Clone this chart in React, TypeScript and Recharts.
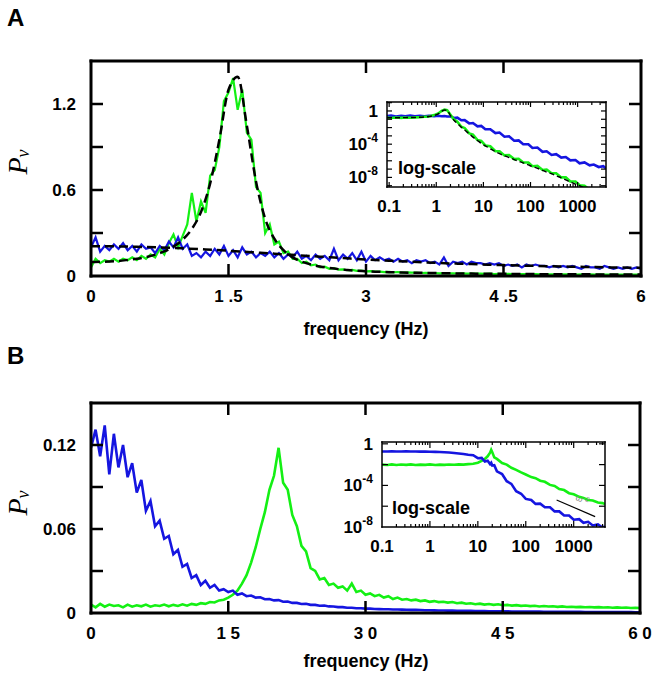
import React from "react";
import { LineChart, Line, XAxis, YAxis } from "recharts";

const SANS = "'Liberation Sans', Arial, Helvetica, sans-serif";
const SERIF = "'Liberation Serif', 'Times New Roman', serif";
const GREEN = "#14f014";
const BLUE = "#1515e0";

// ---- panel A, 0-6 Hz, sampled every 0.05 Hz ----
const A_STEP = 0.05;
const GREEN_A = [
  0.06, 0.12, 0.09, 0.11, 0.10, 0.12, 0.10, 0.12, 0.11, 0.13,
  0.11, 0.14, 0.12, 0.15, 0.13, 0.19, 0.15, 0.23, 0.29, 0.20,
  0.28, 0.36, 0.58, 0.38, 0.52, 0.44, 0.70, 0.74, 0.90, 1.22,
  1.28, 1.38, 1.16, 1.30, 1.00, 0.95, 0.62, 0.58, 0.30, 0.36,
  0.22, 0.24, 0.16, 0.17, 0.12, 0.12, 0.09, 0.10, 0.075, 0.08,
  0.06, 0.065, 0.05, 0.055, 0.045, 0.046, 0.040, 0.042, 0.036, 0.038,
  0.032, 0.034, 0.030, 0.031, 0.027, 0.029, 0.026, 0.027, 0.024, 0.025,
  0.023, 0.024, 0.021, 0.022, 0.020, 0.021, 0.019, 0.020, 0.018, 0.019,
  0.017, 0.018, 0.016, 0.017, 0.016, 0.016, 0.015, 0.016, 0.014, 0.015,
  0.014, 0.015, 0.013, 0.014, 0.013, 0.014, 0.012, 0.013, 0.012, 0.013,
  0.012, 0.012, 0.011, 0.012, 0.011, 0.012, 0.010, 0.011, 0.010, 0.011,
  0.010, 0.011, 0.010, 0.010, 0.009, 0.010, 0.009, 0.010, 0.009, 0.010,
  0.009,
];
const BLUE_A = [
  0.20, 0.27, 0.17, 0.21, 0.18, 0.22, 0.19, 0.23, 0.18, 0.21,
  0.17, 0.22, 0.19, 0.20, 0.16, 0.21, 0.18, 0.24, 0.20, 0.27,
  0.19, 0.22, 0.14, 0.16, 0.13, 0.17, 0.14, 0.19, 0.15, 0.21,
  0.14, 0.18, 0.13, 0.20, 0.15, 0.17, 0.13, 0.16, 0.14, 0.17,
  0.13, 0.16, 0.12, 0.15, 0.13, 0.17, 0.12, 0.14, 0.11, 0.15,
  0.12, 0.14, 0.11, 0.19, 0.11, 0.15, 0.12, 0.16, 0.11, 0.17,
  0.10, 0.14, 0.11, 0.13, 0.11, 0.12, 0.10, 0.12, 0.10, 0.11,
  0.09, 0.11, 0.10, 0.11, 0.09, 0.10, 0.08, 0.13, 0.07, 0.10,
  0.09, 0.10, 0.08, 0.10, 0.09, 0.09, 0.08, 0.09, 0.08, 0.09,
  0.07, 0.08, 0.07, 0.08, 0.06, 0.08, 0.07, 0.08, 0.07, 0.07,
  0.06, 0.07, 0.06, 0.07, 0.06, 0.07, 0.06, 0.05, 0.07, 0.06,
  0.06, 0.05, 0.07, 0.06, 0.05, 0.06, 0.05, 0.06, 0.05, 0.06,
  0.05,
];
// fitted curves (dashed), green every 0.1 Hz, blue every 0.25 Hz
const GREEN_FIT_STEP = 0.1;
const GREEN_FIT_A = [
  0.098, 0.099, 0.101, 0.105, 0.112, 0.120, 0.132, 0.149, 0.172, 0.205,
  0.254, 0.328, 0.447, 0.646, 0.950, 1.300, 1.390, 1.050, 0.660, 0.400,
  0.260, 0.180, 0.130, 0.100, 0.080, 0.066, 0.056, 0.048, 0.042, 0.037,
  0.033, 0.030, 0.028, 0.026, 0.024, 0.023, 0.022, 0.021, 0.020, 0.019,
  0.018, 0.017, 0.0165, 0.016, 0.0155, 0.015, 0.0145, 0.014, 0.0135, 0.013,
  0.0127, 0.0124, 0.0121, 0.0118, 0.0115, 0.0112, 0.011, 0.0108, 0.0106, 0.0104,
  0.0102,
];
const BLUE_FIT_STEP = 0.25;
const BLUE_FIT_A = [
  0.208, 0.207, 0.204, 0.199, 0.193, 0.185, 0.176, 0.166, 0.156, 0.145,
  0.135, 0.125, 0.115, 0.107, 0.099, 0.092, 0.086, 0.081, 0.076, 0.072,
  0.068, 0.065, 0.062, 0.059, 0.057,
];

// ---- panel B, 0-60 Hz, sampled every 0.5 Hz ----
const B_STEP = 0.5;
const GREEN_B = [
  0.0060, 0.0040, 0.0065, 0.0045, 0.0060, 0.0050, 0.0055, 0.0040, 0.0060, 0.0045,
  0.0055, 0.0048, 0.0060, 0.0045, 0.0055, 0.0050, 0.0060, 0.0048, 0.0058, 0.0050,
  0.0062, 0.0052, 0.0065, 0.0058, 0.0070, 0.0065, 0.0078, 0.0075, 0.0090, 0.0095,
  0.011, 0.013, 0.016, 0.021, 0.027, 0.036, 0.047, 0.060, 0.072, 0.088,
  0.098, 0.118, 0.093, 0.088, 0.070, 0.062, 0.048, 0.044, 0.032, 0.030,
  0.024, 0.025, 0.020, 0.021, 0.018, 0.019, 0.016, 0.021, 0.015, 0.016,
  0.013, 0.014, 0.012, 0.013, 0.011, 0.012, 0.010, 0.011, 0.0095, 0.010,
  0.009, 0.0095, 0.0085, 0.009, 0.008, 0.0085, 0.0078, 0.008, 0.0074, 0.0078,
  0.007, 0.0074, 0.0066, 0.007, 0.0063, 0.0067, 0.006, 0.0064, 0.0058, 0.0062,
  0.0055, 0.0058, 0.0053, 0.0056, 0.0051, 0.0054, 0.0049, 0.0052, 0.0047, 0.005,
  0.0046, 0.0048, 0.0044, 0.0047, 0.0043, 0.0045, 0.0042, 0.0044, 0.0041, 0.0043,
  0.004, 0.0042, 0.0039, 0.0041, 0.0038, 0.004, 0.0037, 0.0039, 0.0036, 0.0038,
  0.0036,
];
const BLUE_B = [
  0.118, 0.131, 0.112, 0.134, 0.099, 0.128, 0.104, 0.120, 0.097, 0.107,
  0.086, 0.095, 0.073, 0.080, 0.062, 0.066, 0.053, 0.055, 0.042, 0.045,
  0.033, 0.035, 0.025, 0.027, 0.020, 0.023, 0.018, 0.020, 0.016, 0.017,
  0.015, 0.016, 0.013, 0.014, 0.012, 0.0125, 0.011, 0.0112, 0.0098, 0.010,
  0.009, 0.0092, 0.008, 0.0082, 0.0072, 0.0072, 0.0064, 0.0066, 0.0058, 0.0058,
  0.0052, 0.0053, 0.0047, 0.0046, 0.0042, 0.0042, 0.0038, 0.0037, 0.0034, 0.0034,
  0.0031, 0.0031, 0.0029, 0.0028, 0.0027, 0.0027, 0.0025, 0.0025, 0.0024, 0.0023,
  0.0022, 0.0022, 0.0021, 0.0020, 0.0020, 0.0019, 0.0018, 0.0018, 0.0017, 0.0017,
  0.0016, 0.0016, 0.0015, 0.0015, 0.0014, 0.0014, 0.0014, 0.0013, 0.0013, 0.0012,
  0.0012, 0.0012, 0.0011, 0.0011, 0.0011, 0.0010, 0.0010, 0.0010, 0.0010, 0.0009,
  0.0009, 0.0009, 0.0009, 0.0008, 0.0008, 0.0008, 0.0008, 0.0008, 0.0007, 0.0007,
  0.0007, 0.0007, 0.0007, 0.0006, 0.0006, 0.0006, 0.0006, 0.0006, 0.0006, 0.0005,
  0.0005,
];

// ---- insets (log-log), values kept as powers of ten ----
const INSET_A_FREQ = [
  0.09, 0.11, 0.14, 0.18, 0.22, 0.28, 0.35, 0.45, 0.56, 0.7,
  0.9, 1.1, 1.3, 1.5, 1.7, 2, 2.4, 2.8, 3.4, 4,
  5, 6, 7.5, 9, 11, 14, 18, 22, 28, 35,
  45, 56, 70, 90, 110, 140, 180, 220, 280, 350,
  450, 560, 700, 900, 1100, 1400, 1800, 2200, 2800, 3500,
  4000,
];
const INSET_A_GREEN_EXP = [
  -0.80, -0.84, -0.79, -0.83, -0.78, -0.81, -0.77, -0.76, -0.70, -0.66,
  -0.50, -0.30, 0.0, 0.16, 0.10, -0.45, -1.05, -1.30, -1.90, -2.05,
  -2.70, -2.85, -3.50, -3.60, -4.15, -4.25, -4.85, -4.85, -5.35, -5.30,
  -5.80, -5.75, -6.20, -6.20, -6.65, -6.60, -7.10, -7.05, -7.50, -7.50,
  -8.00, -8.00, -8.50, -8.50, -8.95, -9.00, -9.50, -9.45, -9.95, -9.90,
  -10.2,
];
const INSET_A_FIT_EXP = [
  -0.82, -0.82, -0.82, -0.81, -0.80, -0.79, -0.78, -0.76, -0.72, -0.66,
  -0.54, -0.35, -0.05, 0.12, 0.05, -0.55, -1.15, -1.50, -1.95, -2.30,
  -2.75, -3.15, -3.55, -3.90, -4.20, -4.55, -4.90, -5.15, -5.40, -5.60,
  -5.85, -6.05, -6.25, -6.50, -6.70, -6.90, -7.15, -7.35, -7.55, -7.80,
  -8.05, -8.30, -8.55, -8.80, -9.00, -9.30, -9.55, -9.75, -10.0, -10.2,
  -10.3,
];
const INSET_A_BLUE_EXP = [
  -0.62, -0.55, -0.66, -0.58, -0.64, -0.56, -0.63, -0.59, -0.65, -0.57,
  -0.62, -0.58, -0.64, -0.60, -0.66, -0.66, -0.84, -0.80, -1.12, -1.10,
  -1.50, -1.45, -1.85, -1.80, -2.20, -2.20, -2.67, -2.60, -3.10, -3.05,
  -3.58, -3.55, -4.00, -4.00, -4.45, -4.40, -4.92, -4.85, -5.30, -5.20,
  -5.62, -5.55, -5.95, -5.90, -6.30, -6.20, -6.55, -6.45, -6.75, -6.65,
  -6.90,
];

const INSET_B_FREQ = [
  0.1, 0.13, 0.16, 0.2, 0.25, 0.32, 0.4, 0.5, 0.63, 0.8,
  1, 1.3, 1.6, 2, 2.5, 3.2, 4, 5, 6.3, 8,
  10, 12, 14, 16, 18, 19, 20, 22, 25, 32,
  40, 50, 63, 80, 100, 130, 160, 200, 250, 320,
  400, 500, 630, 800, 1000, 1300, 1600, 2000, 2500, 3200,
  4000, 4500,
];
const INSET_B_GREEN_EXP = [
  -2.00, -2.04, -1.98, -2.03, -1.99, -2.02, -1.98, -2.03, -2.00, -2.02,
  -1.98, -2.03, -2.00, -2.02, -1.99, -2.01, -1.98, -2.00, -1.95, -1.92,
  -1.82, -1.65, -1.45, -1.20, -0.85, -0.58, -0.80, -1.30, -1.45, -1.85,
  -2.00, -2.30, -2.50, -2.75, -2.95, -3.20, -3.30, -3.55, -3.65, -3.95,
  -4.05, -4.35, -4.45, -4.75, -4.85, -5.10, -5.20, -5.40, -5.45, -5.65,
  -5.70, -5.80,
];
const INSET_B_BLUE_EXP = [
  -0.74, -0.74, -0.73, -0.74, -0.74, -0.73, -0.74, -0.74, -0.75, -0.75,
  -0.76, -0.77, -0.79, -0.81, -0.84, -0.88, -0.93, -0.98, -1.05, -1.10,
  -1.38, -1.35, -1.70, -1.62, -1.95, -1.82, -2.08, -2.05, -2.65, -2.90,
  -3.60, -3.85, -4.55, -4.80, -5.30, -5.40, -5.78, -5.75, -6.10, -6.10,
  -6.50, -6.50, -6.90, -6.90, -7.30, -7.25, -7.60, -7.50, -7.85, -7.75,
  -8.05, -7.95,
];
// ω^-2 guide segment in inset B
const SLOPE_FREQ = [440, 2800];
const SLOPE_EXP = [-5.4, -7.0];

// ---- axes ----
const X_TICKS_A = [0, 1.5, 3, 4.5, 6];
const X_LABELS_A = ["0", "1 .5", "3", "4 .5", "6"];
const Y_TICKS_A = [0, 0.3, 0.6, 0.9, 1.2];
const Y_LABELS_A = ["0", "", "0.6", "", "1.2"];
const X_TICKS_B = [0, 15, 30, 45, 60];
const X_LABELS_B = ["0", "1 5", "3 0", "4 5", "6 0"];
const Y_TICKS_B = [0, 0.03, 0.06, 0.09, 0.12];
const Y_LABELS_B = ["0", "", "0.06", "", "0.12"];
const LOG_DECADES = [0.1, 1, 10, 100, 1000];
const LOG_DECADE_LABELS = ["0.1", "1", "10", "100", "1000"];
const INSET_A_Y_TICKS = [1e-9, 1e-8, 1e-7, 1e-6, 1e-5, 1e-4, 1e-3, 1e-2, 1e-1, 1, 10];
const INSET_B_Y_TICKS = [1e-8, 1e-6, 1e-4, 1e-2, 1];
const LOG_Y_LABELED = [0, -4, -8];

// domains and plot boxes (page pixels) of the four frames
const A_X: [number, number] = [0, 6];
const A_Y: [number, number] = [0, 1.5];
const B_X: [number, number] = [0, 60];
const B_Y: [number, number] = [0, 0.15];
const IA_X: [number, number] = [0.09, 4000];
const IA_Y: [number, number] = [7e-10, 12];
const IB_X: [number, number] = [0.1, 4500];
const IB_Y: [number, number] = [1e-8, 1.5];
const BOX_A = { left: 91, right: 641, top: 61, bottom: 276 };
const BOX_B = { left: 91, right: 640, top: 403, bottom: 613 };
const BOX_IA = { left: 387, right: 606, top: 102, bottom: 187 };
const BOX_IB = { left: 382, right: 605, top: 442, bottom: 527 };

const onGrid = (vals: number[], step: number) =>
  vals.map((p, i) => ({ f: Math.round(i * step * 1000) / 1000, p }));
const onLog = (freq: number[], exps: number[]) =>
  freq.map((f, i) => ({ f, p: Math.pow(10, exps[i]) }));

const greenA = onGrid(GREEN_A, A_STEP);
const blueA = onGrid(BLUE_A, A_STEP);
const greenFitA = onGrid(GREEN_FIT_A, GREEN_FIT_STEP);
const blueFitA = onGrid(BLUE_FIT_A, BLUE_FIT_STEP);
const greenB = onGrid(GREEN_B, B_STEP);
const blueB = onGrid(BLUE_B, B_STEP);
const insetAGreen = onLog(INSET_A_FREQ, INSET_A_GREEN_EXP);
const insetAFit = onLog(INSET_A_FREQ, INSET_A_FIT_EXP);
const insetABlue = onLog(INSET_A_FREQ, INSET_A_BLUE_EXP);
const insetBGreen = onLog(INSET_B_FREQ, INSET_B_GREEN_EXP);
const insetBBlue = onLog(INSET_B_FREQ, INSET_B_BLUE_EXP);
const slopeB = onLog(SLOPE_FREQ, SLOPE_EXP);

const isDecade = (v: number) => Math.abs(Math.log10(v) - Math.round(Math.log10(v))) < 1e-6;

function logXTicks(max: number, major: boolean) {
  const out: number[] = [];
  LOG_DECADES.forEach((d) => {
    for (let m = major ? 1 : 2; m <= (major ? 1 : 9); m++) {
      const t = Number((m * d).toPrecision(3));
      if (t < max) out.push(t);
    }
  });
  return out;
}

function labelTick(side: "bottom" | "left", label: (v: number) => React.ReactNode, gap: number) {
  return (props: any) => {
    const x = Number(props.x);
    const y = Number(props.y);
    const content = label(Number(props.payload?.value));
    const tp = { fontFamily: SANS, fontWeight: 700, fontSize: 17, fill: "#000" };
    if (!content) return <g />;
    return side === "bottom" ? (
      <text x={x} y={y + gap} textAnchor="middle" {...tp}>{content}</text>
    ) : (
      <text x={x - gap} y={y + 6} textAnchor="end" {...tp}>{content}</text>
    );
  };
}

function frameAxes(p: {
  xDomain: [number, number];
  yDomain: [number, number];
  xTicks: number[];
  yTicks: number[];
  xLabel: (v: number) => React.ReactNode;
  yLabel: (v: number) => React.ReactNode;
  log: boolean;
  frame: number;
  xGap: number;
  yGap: number;
  bottomH: number;
  leftW: number;
  topH: number;
  rightW: number;
}) {
  const scale = p.log ? ("log" as const) : ("linear" as const);
  const base = { type: "number" as const, scale, interval: 0 as const, allowDataOverflow: true };
  const frameLine = { stroke: "#000", strokeWidth: p.frame, strokeLinecap: "square" as const };
  return [
    <XAxis key="xb" xAxisId="b" dataKey="f" domain={p.xDomain} ticks={p.xTicks} height={p.bottomH}
      tickSize={0} tickMargin={0} tickLine={false} axisLine={frameLine} tick={labelTick("bottom", p.xLabel, p.xGap)} {...base} />,
    <XAxis key="xt" xAxisId="t" orientation="top" domain={p.xDomain} ticks={p.xTicks} height={p.topH}
      tickLine={false} tick={false} axisLine={frameLine} {...base} />,
    <YAxis key="yl" yAxisId="l" domain={p.yDomain} ticks={p.yTicks} width={p.leftW}
      tickSize={0} tickMargin={0} tickLine={false} axisLine={frameLine} tick={labelTick("left", p.yLabel, p.yGap)} {...base} />,
    <YAxis key="yr" yAxisId="r" orientation="right" domain={p.yDomain} ticks={p.yTicks} width={p.rightW}
      tickLine={false} tick={false} axisLine={frameLine} {...base} />,
  ];
}

const mainAxes = (xDomain: [number, number], yDomain: [number, number], xTicks: number[], xLabels: string[], yTicks: number[], yLabels: string[]) =>
  frameAxes({
    xDomain,
    yDomain,
    xTicks,
    yTicks,
    xLabel: (v) => xLabels[xTicks.indexOf(v)] || null,
    yLabel: (v) => yLabels[yTicks.indexOf(v)] || null,
    log: false,
    frame: 3,
    xGap: 26,
    yGap: 15,
    bottomH: 30,
    leftW: 40,
    topH: 10,
    rightW: 10,
  });

const insetAxes = (xDomain: [number, number], yDomain: [number, number], yTicks: number[]) =>
  frameAxes({
    xDomain,
    yDomain,
    xTicks: logXTicks(xDomain[1], true),
    yTicks,
    xLabel: (v) => {
      const i = LOG_DECADES.findIndex((d) => Math.abs(d - v) < 1e-9);
      return i >= 0 ? LOG_DECADE_LABELS[i] : null;
    },
    yLabel: (v) => {
      const e = Math.round(Math.log10(v));
      if (!isDecade(v) || !LOG_Y_LABELED.includes(e)) return null;
      if (e === 0) return "1";
      return (
        <>
          <tspan>10</tspan>
          <tspan dy={-8} fontSize={12}>{String(e)}</tspan>
        </>
      );
    },
    log: true,
    frame: 1.5,
    xGap: 25,
    yGap: 9,
    bottomH: 25,
    leftW: 50,
    topH: 6,
    rightW: 6,
  });

// inward tick marks on all four sides of a frame
function FrameTicks(p: {
  box: { left: number; right: number; top: number; bottom: number };
  xDomain: [number, number];
  yDomain: [number, number];
  log: boolean;
  xTicks: number[];
  xMinor?: number[];
  yTicks: number[];
  len: number;
  minorLen?: number;
  width: number;
}) {
  const t = (v: number, d: [number, number]) =>
    p.log ? (Math.log10(v) - Math.log10(d[0])) / (Math.log10(d[1]) - Math.log10(d[0])) : (v - d[0]) / (d[1] - d[0]);
  const { left, right, top, bottom } = p.box;
  const inside = (u: number) => u > 0.003 && u < 0.997;
  const xs = [
    ...p.xTicks.map((v) => ({ v, len: p.len })),
    ...(p.xMinor || []).map((v) => ({ v, len: p.minorLen || p.len / 2 })),
  ];
  return (
    <g stroke="#000" strokeWidth={p.width}>
      {xs.filter((k) => inside(t(k.v, p.xDomain))).map((k, i) => {
        const x = left + t(k.v, p.xDomain) * (right - left);
        return (
          <g key={`x${i}`}>
            <line x1={x} y1={bottom} x2={x} y2={bottom - k.len} />
            <line x1={x} y1={top} x2={x} y2={top + k.len} />
          </g>
        );
      })}
      {p.yTicks.filter((v) => inside(t(v, p.yDomain))).map((v, i) => {
        const y = bottom - t(v, p.yDomain) * (bottom - top);
        return (
          <g key={`y${i}`}>
            <line x1={left} y1={y} x2={left + p.len} y2={y} />
            <line x1={right} y1={y} x2={right - p.len} y2={y} />
          </g>
        );
      })}
    </g>
  );
}

const lineBase = { xAxisId: "b", yAxisId: "l", dataKey: "p", dot: false, isAnimationActive: false, type: "linear" as const };

function PvLabel({ cx, cy }: { cx: number; cy: number }) {
  return (
    <text x={cx} y={cy} transform={`rotate(-90 ${cx} ${cy})`} textAnchor="middle" fontFamily={SERIF} fontStyle="italic" fontSize={28}>
      P<tspan fontSize={18} dy={2}>v</tspan>
    </text>
  );
}

export default function App() {
  return (
    <div style={{ position: "absolute", left: 0, top: 0, width: 660, height: 679, background: "#fff" }}>
      {/* panel A */}
      <div style={{ position: "absolute", left: 0, top: 0 }}>
        <LineChart width={660} height={340} margin={{ top: 51, right: 9, bottom: 34, left: 51 }}>
          {mainAxes(A_X, A_Y, X_TICKS_A, X_LABELS_A, Y_TICKS_A, Y_LABELS_A)}
          <Line {...lineBase} data={greenA} stroke={GREEN} strokeWidth={2.2} />
          <Line {...lineBase} data={blueA} stroke={BLUE} strokeWidth={2.2} />
          <Line {...lineBase} data={blueFitA} type="monotone" stroke="#000" strokeWidth={2.5} strokeDasharray="9 5" />
          <Line {...lineBase} data={greenFitA} type="monotone" stroke="#000" strokeWidth={2.5} strokeDasharray="9 5" />
        </LineChart>
      </div>
      {/* inset A */}
      <div style={{ position: "absolute", left: 330, top: 80 }}>
        <LineChart width={290} height={140} margin={{ top: 16, right: 8, bottom: 8, left: 7 }}>
          {insetAxes(IA_X, IA_Y, INSET_A_Y_TICKS)}
          <Line {...lineBase} data={insetABlue} stroke={BLUE} strokeWidth={2.6} />
          <Line {...lineBase} data={insetAGreen} stroke={GREEN} strokeWidth={2.6} />
          <Line {...lineBase} data={insetAFit} type="monotone" stroke="#000" strokeWidth={1.4} strokeDasharray="5 3" />
        </LineChart>
      </div>
      {/* panel B */}
      <div style={{ position: "absolute", left: 0, top: 340 }}>
        <LineChart width={660} height={339} margin={{ top: 53, right: 10, bottom: 36, left: 51 }}>
          {mainAxes(B_X, B_Y, X_TICKS_B, X_LABELS_B, Y_TICKS_B, Y_LABELS_B)}
          <Line {...lineBase} data={greenB} stroke={GREEN} strokeWidth={2.6} />
          <Line {...lineBase} data={blueB} stroke={BLUE} strokeWidth={2.6} />
        </LineChart>
      </div>
      {/* inset B */}
      <div style={{ position: "absolute", left: 330, top: 420 }}>
        <LineChart width={290} height={140} margin={{ top: 16, right: 9, bottom: 8, left: 2 }}>
          {insetAxes(IB_X, IB_Y, INSET_B_Y_TICKS)}
          <Line {...lineBase} data={insetBGreen} stroke={GREEN} strokeWidth={2.6} />
          <Line {...lineBase} data={insetBBlue} stroke={BLUE} strokeWidth={2.6} />
          <Line {...lineBase} data={slopeB} stroke="#000" strokeWidth={1.2} />
        </LineChart>
      </div>
      {/* tick marks and text */}
      <svg width={660} height={679} style={{ position: "absolute", left: 0, top: 0, pointerEvents: "none" }}>
        <FrameTicks box={BOX_A} xDomain={A_X} yDomain={A_Y} log={false} xTicks={X_TICKS_A} yTicks={[...Y_TICKS_A, 1.5]} len={12} width={2.5} />
        <FrameTicks box={BOX_B} xDomain={B_X} yDomain={B_Y} log={false} xTicks={X_TICKS_B} yTicks={[...Y_TICKS_B, 0.15]} len={12} width={2.5} />
        <FrameTicks box={BOX_IA} xDomain={IA_X} yDomain={IA_Y} log xTicks={logXTicks(IA_X[1], true)} xMinor={logXTicks(IA_X[1], false)}
          yTicks={INSET_A_Y_TICKS} len={5} minorLen={3} width={1.2} />
        <FrameTicks box={BOX_IB} xDomain={IB_X} yDomain={IB_Y} log xTicks={logXTicks(IB_X[1], true)} xMinor={logXTicks(IB_X[1], false)}
          yTicks={INSET_B_Y_TICKS} len={6} minorLen={3} width={1.2} />
        <text x={7} y={26} fontFamily={SANS} fontWeight={700} fontSize={24}>A</text>
        <text x={7} y={364} fontFamily={SANS} fontWeight={700} fontSize={24}>B</text>
        <PvLabel cx={27} cy={162} />
        <PvLabel cx={27} cy={503} />
        <text x={366} y={335} textAnchor="middle" fontFamily={SANS} fontWeight={700} fontSize={18}>frequency (Hz)</text>
        <text x={366} y={667} textAnchor="middle" fontFamily={SANS} fontWeight={700} fontSize={18}>frequency (Hz)</text>
        <text x={398} y={174} fontFamily={SANS} fontWeight={700} fontSize={18}>log-scale</text>
        <text x={392} y={514} fontFamily={SANS} fontWeight={700} fontSize={18}>log-scale</text>
        <text x={574} y={502} transform="rotate(25 580 503)" fontFamily={SANS} fontSize={9} fill="#888">
          ω<tspan dy={-3} fontSize={7}>-2</tspan>
        </text>
      </svg>
    </div>
  );
}
